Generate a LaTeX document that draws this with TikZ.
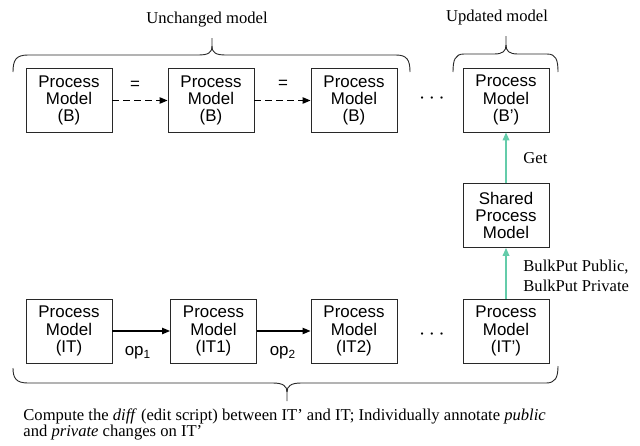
\documentclass[tikz,border=0pt]{standalone}
\usepackage{fontspec}
\setmainfont{Liberation Serif}
\setsansfont{Liberation Sans}
\usetikzlibrary{arrows.meta}
\definecolor{linkgreen}{RGB}{100,204,170}
\definecolor{edge}{RGB}{40,40,40}
\tikzset{
  model/.style={draw=edge, line width=0.45pt, fill=white, minimum width=43pt, minimum height=32pt,
    inner sep=0pt, align=center, font=\sffamily\fontsize{8.45}{8.6}\selectfont},
  lbl/.style={font=\fontsize{8.3}{9}\selectfont, inner sep=0pt},
  slbl/.style={font=\sffamily\fontsize{8.45}{9}\selectfont, inner sep=0pt},
  dotlbl/.style={font=\sffamily\fontsize{11}{11}\selectfont, inner sep=0pt},
  brace/.style={draw=edge, line width=0.45pt},
  tip/.style={-{Triangle[length=4pt,width=3.2pt]}},
  flow/.style={tip, draw=black, line width=0.6pt},
  same/.style={tip, draw=black, line width=0.6pt, dash pattern=on 3.5pt off 2pt},
  sync/.style={-{Triangle[length=4pt,width=3.4pt]}, draw=linkgreen, line width=0.6pt}
}
\begin{document}
\begin{tikzpicture}[x=0.5pt, y=-0.5pt]
\useasboundingbox (0,0) rectangle (640,445);

% top row: base models
\node[model] (b1) at (69,100.5) {Process\\Model\\(B)};
\node[model] (b2) at (211,100.5) {Process\\Model\\(B)};
\node[model] (b3) at (354,100.5) {Process\\Model\\(B)};
\node[model] (bp) at (506,100) {Process\\Model\\(B')};
\node[dotlbl] (tdots) at (432,99) {$\cdots$};

% shared model
\node[model] (sh) at (506,215.5) {Shared\\Process\\Model};

% bottom row: internal models
\node[model] (it0) at (69,331) {Process\\Model\\(IT)};
\node[model] (it1) at (213.5,331) {Process\\Model\\(IT1)};
\node[model] (it2) at (354,331) {Process\\Model\\(IT2)};
\node[model] (itp) at (506,331) {Process\\Model\\(IT')};
\node[dotlbl] (bdots) at (432,335) {$\cdots$};

% connectors
\draw[same] (b1) -- (b2);
\draw[same] (b2) -- (b3);
\node[slbl] (eq1) at (135,85) {=};
\node[slbl] (eq2) at (283,84) {=};

\draw[flow] (it0) -- (it1);
\draw[flow] (it1) -- (it2);
\node[slbl] (op1) at (138,353) {op\textsubscript{1}};
\node[slbl] (op2) at (283,353) {op\textsubscript{2}};

\draw[sync] (sh) -- (bp);
\draw[sync] (itp) -- (sh);
\node[lbl, anchor=west] (get) at (523,158) {Get};
\node[lbl, anchor=west, align=left, font=\fontsize{8.3}{10}\selectfont] (bulk) at (523,276) {BulkPut Public,\\BulkPut Private};

% braces
\draw[brace] (13,72) .. controls (13,60) and (16,55) .. (28,55) -- (198,55)
  .. controls (208,55) and (212,53) .. (212,46) -- (212,38);
\draw[brace] (212,46) .. controls (212,53) and (216,55) .. (226,55) -- (396,55)
  .. controls (407,55) and (410,60) .. (410,72);
\node[lbl] (unch) at (207,20) {Unchanged model};

\draw[brace] (453,72) .. controls (453,60) and (455,54) .. (464,54) -- (494,54)
  .. controls (503,54) and (506,51) .. (506,45) -- (506,36);
\draw[brace] (506,45) .. controls (506,51) and (509,54) .. (518,54) -- (547,54)
  .. controls (556,54) and (558,60) .. (558,72);
\node[lbl] (upd) at (497,18) {Updated model};

\draw[brace] (13,368) .. controls (13,378) and (16,383) .. (28,383) -- (273,383)
  .. controls (283,383) and (287,386) .. (287,392) -- (287,401);
\draw[brace] (287,392) .. controls (287,386) and (291,383) .. (301,383) -- (546,383)
  .. controls (555,383) and (558,378) .. (558,366);

\node[lbl, anchor=north west, align=left, font=\fontsize{8.3}{8.1}\selectfont] (note) at (23,408)
  {Compute the \textit{diff} (edit script) between IT' and IT; Individually annotate \textit{public}\\
   and \textit{private} changes on IT'};
\end{tikzpicture}
\end{document}
